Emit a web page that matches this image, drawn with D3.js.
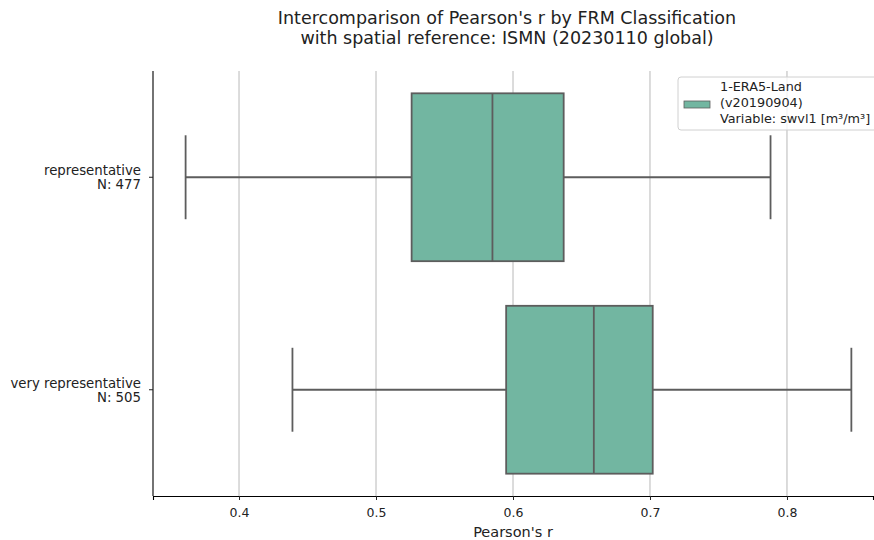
<!DOCTYPE html>
<html>
<meta charset="utf-8">
<title>pearson r boxplot</title>
<style>
html,body{ margin:0; background:#fff; }
svg text { font-family: "DejaVu Sans", sans-serif; }
</style>
<script src="https://d3js.org/d3.v7.min.js"></script>
<body>
<script>

var categories = ["representative\nN: 477", "very representative\nN: 505"];
var whiskLow  = [0.361, 0.439];
var q1        = [0.526, 0.595];
var medians   = [0.585, 0.659];
var q3        = [0.637, 0.702];
var whiskHigh = [0.788, 0.847];
var xTicks    = [0.4, 0.5, 0.6, 0.7, 0.8];
var legendLines = ["1-ERA5-Land", "(v20190904)", "Variable: swvl1 [m\u00b3/m\u00b3]"];

var width = 874, height = 540;
var margin = {top: 71, right: 1, bottom: 44, left: 153};

var svg = d3.select("body").append("svg")
    .attr("width", width)
    .attr("height", height);

var x = d3.scaleLinear()
    .domain([0.3372, 0.8628])
    .range([margin.left, width - margin.right]);

var y = d3.scaleBand()
    .domain(categories)
    .range([margin.top, height - margin.bottom])
    .paddingInner(0)
    .paddingOuter(0);

var boxH = y.bandwidth() * 0.79;
var capH = boxH / 2;
var lineCol = "#5d5d5d";
var lw = 1.8;

// grid lines
svg.append("g").selectAll("line")
    .data(xTicks)
  .enter().append("line")
    .attr("x1", d => x(d)).attr("x2", d => x(d))
    .attr("y1", margin.top).attr("y2", height - margin.bottom)
    .attr("stroke", "#b0b0b0")
    .attr("stroke-width", 0.9);

var data = categories.map(function(c, i) {
  return {cat: c, lo: whiskLow[i], q1: q1[i], med: medians[i], q3: q3[i], hi: whiskHigh[i]};
});

var g = svg.append("g").selectAll("g")
    .data(data)
  .enter().append("g")
    .attr("transform", d => "translate(0," + (y(d.cat) + y.bandwidth() / 2) + ")");

// whiskers
g.append("line")
    .attr("x1", d => x(d.lo)).attr("x2", d => x(d.q1))
    .attr("y1", 0).attr("y2", 0)
    .attr("stroke", lineCol).attr("stroke-width", lw);
g.append("line")
    .attr("x1", d => x(d.q3)).attr("x2", d => x(d.hi))
    .attr("y1", 0).attr("y2", 0)
    .attr("stroke", lineCol).attr("stroke-width", lw);
g.append("line")
    .attr("x1", d => x(d.lo)).attr("x2", d => x(d.lo))
    .attr("y1", -capH / 2).attr("y2", capH / 2)
    .attr("stroke", lineCol).attr("stroke-width", lw);
g.append("line")
    .attr("x1", d => x(d.hi)).attr("x2", d => x(d.hi))
    .attr("y1", -capH / 2).attr("y2", capH / 2)
    .attr("stroke", lineCol).attr("stroke-width", lw);

// box
g.append("rect")
    .attr("x", d => x(d.q1))
    .attr("width", d => x(d.q3) - x(d.q1))
    .attr("y", -boxH / 2)
    .attr("height", boxH)
    .attr("fill", "#72b6a1")
    .attr("stroke", lineCol)
    .attr("stroke-width", lw);
g.append("line")
    .attr("x1", d => x(d.med)).attr("x2", d => x(d.med))
    .attr("y1", -boxH / 2).attr("y2", boxH / 2)
    .attr("stroke", lineCol).attr("stroke-width", lw);

// x axis
var xAxis = svg.append("g")
    .attr("transform", "translate(0," + (height - margin.bottom) + ")")
    .call(d3.axisBottom(x).tickValues(xTicks).tickSize(4).tickPadding(0).tickFormat(d3.format(".1f")));
xAxis.select(".domain").attr("stroke", "#000").attr("stroke-width", 1.1);
xAxis.selectAll(".tick text")
    .attr("font-size", 12.5).attr("fill", "#222")
    .attr("dy", null).attr("y", 21);
xAxis.selectAll(".tick line").attr("stroke", "#222");

// y axis
var yAxis = svg.append("g")
    .attr("transform", "translate(" + margin.left + ",0)")
    .call(d3.axisLeft(y).tickSize(4).tickPadding(5).tickFormat(""));
yAxis.select(".domain").attr("stroke", "#000").attr("stroke-width", 1.1)
    .attr("d", "M0," + margin.top + "V" + (height - margin.bottom));
yAxis.selectAll(".tick line").attr("stroke", "#222");
yAxis.selectAll(".tick").each(function(d) {
  var t = d3.select(this).append("text")
      .attr("fill", "#222")
      .attr("font-size", 13.3)
      .attr("text-anchor", "end");
  d.split("\n").forEach(function(line, i) {
    t.append("tspan").attr("x", -12).attr("y", i === 0 ? -2 : 12).text(line);
  });
});

// x label
svg.append("text")
    .attr("x", x((x.domain()[0] + x.domain()[1]) / 2))
    .attr("y", 537)
    .attr("text-anchor", "middle")
    .attr("font-size", 14.5)
    .attr("fill", "#222")
    .text("Pearson's r");

// title
var title = svg.append("text")
    .attr("text-anchor", "middle")
    .attr("font-size", 17.5)
    .attr("fill", "#222");
["Intercomparison of Pearson's r by FRM Classification",
 "with spatial reference: ISMN (20230110 global)"].forEach(function(line, i) {
  title.append("tspan").attr("x", 507).attr("y", 24 + i * 19.5).text(line);
});

// legend
var leg = svg.append("g").attr("transform", "translate(678,77)");
leg.append("rect")
    .attr("width", 200).attr("height", 53)
    .attr("rx", 3)
    .attr("fill", "#fff").attr("fill-opacity", 0.8)
    .attr("stroke", "#d0d0d0");
leg.append("rect")
    .attr("x", 6).attr("y", 24)
    .attr("width", 26).attr("height", 7)
    .attr("fill", "#72b6a1")
    .attr("stroke", lineCol).attr("stroke-width", 0.8);
leg.selectAll("text.l")
    .data(legendLines)
  .enter().append("text")
    .attr("class", "l")
    .attr("x", 42)
    .attr("y", (d, i) => 14 + i * 16)
    .attr("font-size", 12.8)
    .attr("fill", "#222")
    .text(d => d);

</script>
</body>
</html>
